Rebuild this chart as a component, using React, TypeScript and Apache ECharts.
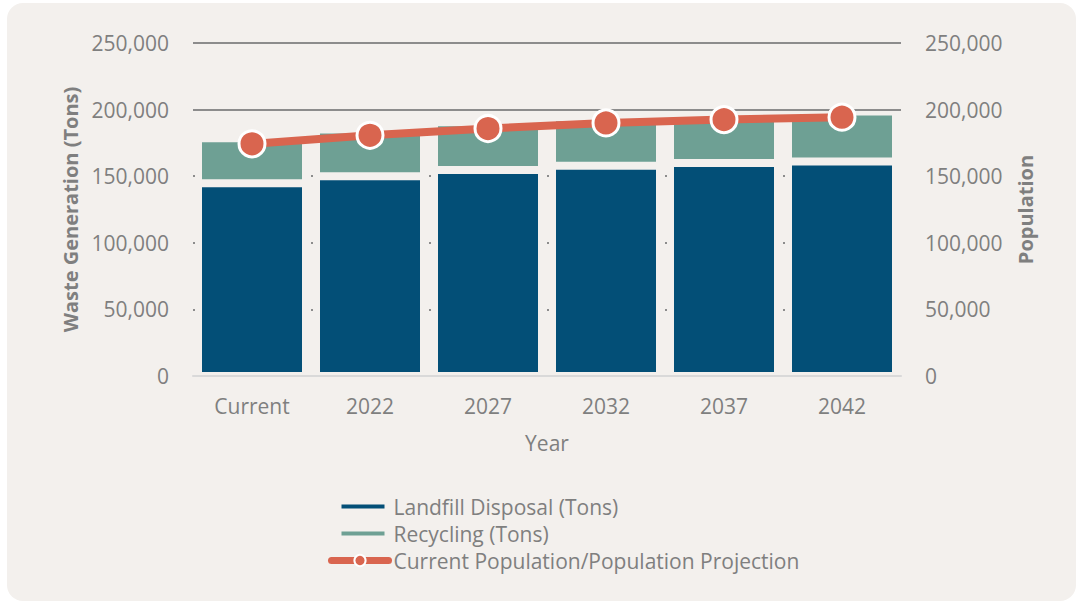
import React, { useEffect, useRef } from "react";
import * as echarts from "echarts";

const categories = ["Current", "2022", "2027", "2032", "2037", "2042"];
const landfill = [144800, 150000, 154600, 157800, 160000, 161100];
const recycling = [33700, 35000, 35900, 36500, 36800, 37500];
const population = [174300, 180700, 185800, 190000, 192500, 194300];
const gridLines = [250000, 200000];

const FONT = "Open Sans";
const GRAY = "#7f7f7f";
const BG = "#f3f0ed";

const barIcon =
  "path://M0,0 L0.1,0 L0,0.1 Z M10,5 L53,5 L53,9 L10,9 Z M57,14 L56.9,14 L57,13.9 Z";

export default function App() {
  const ref = useRef<HTMLDivElement>(null);
  useEffect(() => {
    const chart = echarts.init(ref.current!, null, { renderer: "svg" });
    const fmt = (v: number) => v.toLocaleString("en-US");
    chart.setOption({
      animation: false,
      backgroundColor: "transparent",
      textStyle: { fontFamily: FONT },
      grid: { left: 193, right: 183, top: 43, bottom: 228, containLabel: false },
      legend: {
        orient: "vertical",
        left: 323,
        top: 491,
        itemWidth: 57,
        itemHeight: 14,
        itemGap: 6,
        textStyle: { fontSize: 21, color: GRAY, fontFamily: FONT },
        data: [
          { name: "Landfill Disposal (Tons)", icon: barIcon, itemStyle: { borderWidth: 0 } },
          { name: "Recycling (Tons)", icon: barIcon, itemStyle: { borderWidth: 0 } },
          {
            name: "Current Population/Population Projection",
            lineStyle: { width: 7, cap: "round" },
            itemStyle: { borderWidth: 2, borderColor: "#ffffff" },
          },
        ],
      },
      xAxis: {
        type: "category",
        data: categories,
        z: 3,
        name: "Year",
        nameLocation: "middle",
        nameGap: 56,
        nameTextStyle: { fontSize: 21, color: GRAY, fontFamily: FONT },
        axisLine: { lineStyle: { color: "#d9d9d9", width: 2 } },
        axisTick: { show: false },
        axisLabel: { fontSize: 21, color: GRAY, margin: 19, fontFamily: FONT },
      },
      yAxis: [
        {
          type: "value",
          min: 0,
          max: 250000,
          interval: 50000,
          name: "Waste Generation (Tons)",
          nameLocation: "middle",
          nameGap: 111,
          nameRotate: 90,
          nameTextStyle: { fontSize: 20, fontWeight: "bold", color: GRAY, fontFamily: FONT },
          axisLine: { show: false },
          axisTick: { show: false },
          axisLabel: { fontSize: 21, color: GRAY, margin: 24, formatter: fmt, fontFamily: FONT },
          splitLine: { lineStyle: { color: "#8c8c8c", width: 2, type: [2, 116] } },
        },
        {
          type: "value",
          min: 0,
          max: 250000,
          interval: 50000,
          name: "Population",
          nameLocation: "middle",
          nameGap: 114,
          nameRotate: 90,
          nameTextStyle: { fontSize: 20, fontWeight: "bold", color: GRAY, fontFamily: FONT },
          axisLine: { show: false },
          axisTick: { show: false },
          axisLabel: { fontSize: 21, color: GRAY, margin: 24, formatter: fmt, fontFamily: FONT },
          splitLine: { show: false },
        },
      ],
      series: [
        {
          name: "Landfill Disposal (Tons)",
          type: "bar",
          stack: "waste",
          barWidth: 108,
          data: landfill,
          itemStyle: { color: "#034f77", borderColor: BG, borderWidth: 4 },
          markLine: {
            silent: true,
            z: 1,
            symbol: "none",
            label: { show: false },
            lineStyle: { color: "#8c8c8c", width: 2, type: "solid" },
            data: gridLines.map((v) => ({ yAxis: v })),
          },
        },
        {
          name: "Recycling (Tons)",
          type: "bar",
          stack: "waste",
          barWidth: 108,
          data: recycling,
          itemStyle: { color: "#6ea094", borderColor: BG, borderWidth: 4 },
        },
        {
          name: "Current Population/Population Projection",
          type: "line",
          yAxisIndex: 1,
          data: population,
          z: 5,
          symbol: "circle",
          symbolSize: 26,
          lineStyle: { color: "#d9654f", width: 8 },
          itemStyle: { color: "#d9654f", borderColor: "#ffffff", borderWidth: 3 },
        },
      ],
    });
    return () => chart.dispose();
  }, []);

  return (
    <div style={{ position: "fixed", left: 0, top: 0, width: 1084, height: 604, background: "#ffffff" }}>
      <div
        style={{
          position: "absolute",
          left: 7,
          top: 3,
          width: 1069,
          height: 598,
          borderRadius: 16,
          background: BG,
        }}
      />
      <div ref={ref} style={{ position: "absolute", left: 0, top: 0, width: 1084, height: 604 }} />
    </div>
  );
}
